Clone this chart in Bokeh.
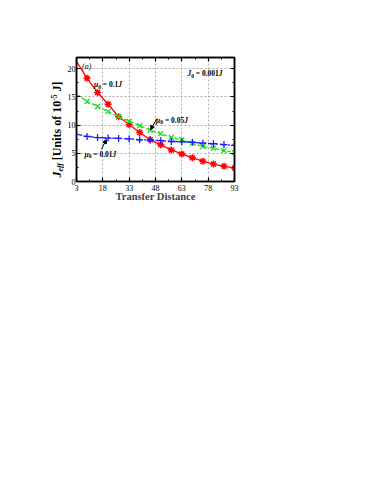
import math
from bokeh.plotting import figure
from bokeh.layouts import row
from bokeh.models import (Range1d, FixedTicker, LinearAxis, Label, Arrow, NormalHead,
                          CustomJSTickFormatter)
from bokeh.embed import file_html
from bokeh.resources import INLINE

# ---- data ----
distance = [3, 9, 15, 21, 27, 33, 39, 45, 51, 57, 63, 69, 75, 81, 87, 93]
jeff_mu_0_1 = [21.3, 18.3, 15.8, 13.7, 11.5, 10.1, 8.7, 7.4, 6.5, 5.6, 4.9, 4.2, 3.6, 3.1, 2.7, 2.4]
jeff_mu_0_05 = [15.5, 14.2, 13.3, 12.4, 11.5, 10.7, 9.9, 9.1, 8.5, 7.8, 7.4, 6.8, 6.2, 5.9, 5.5, 5.1]
jeff_mu_0_01 = [8.4, 8.0, 7.8, 7.7, 7.65, 7.55, 7.4, 7.35, 7.25, 7.1, 7.05, 6.95, 6.8, 6.7, 6.55, 6.4]
x_ticks = [3, 18, 33, 48, 63, 78, 93]
x_minor = [10.5, 25.5, 40.5, 55.5, 70.5, 85.5]
y_ticks = [0, 5, 10, 15, 20]
y_minor = [2.5, 7.5, 12.5, 17.5]

FONT = "Liberation Serif"
H = 222          # total height of both panels
LAB_W = 64       # width of the side panel holding the y title
FRAME_H = 124    # plot frame height in px
Y_MAX = 22

p = figure(width=11 + 159 + 12, height=H, output_backend="svg", toolbar_location=None,
           x_range=Range1d(3, 93), y_range=Range1d(0, Y_MAX),
           min_border_left=11, min_border_top=57, min_border_right=12, min_border_bottom=41,
           background_fill_color="white", border_fill_color="white")
p.outline_line_color = "black"
p.outline_line_width = 1.5

# narrow panel that carries the rotated y-axis title; it shares the y range
lab = figure(width=LAB_W, height=H, output_backend="svg", toolbar_location=None,
             x_range=Range1d(0, LAB_W), y_range=p.y_range,
             min_border_left=0, min_border_right=0, min_border_top=57, min_border_bottom=41,
             x_axis_location=None, y_axis_location=None)
lab.outline_line_color = None
lab.xgrid.visible = False
lab.ygrid.visible = False

blank = CustomJSTickFormatter(code="return ''")

def style_axis(ax, labels=True):
    ax.axis_line_width = 1.5
    ax.axis_line_color = "black"
    ax.major_tick_in = 4
    ax.major_tick_out = 0
    ax.minor_tick_in = 2
    ax.minor_tick_out = 0
    ax.major_tick_line_width = 1.2
    ax.minor_tick_line_width = 1
    ax.major_label_text_font = FONT
    ax.major_label_text_font_size = "8px"
    ax.major_label_text_color = "black"
    if not labels:
        ax.formatter = blank
        ax.major_label_standoff = 0

p.xaxis.ticker = FixedTicker(ticks=x_ticks, minor_ticks=x_minor)
p.yaxis.ticker = FixedTicker(ticks=y_ticks, minor_ticks=y_minor)
style_axis(p.xaxis[0])
style_axis(p.yaxis[0])
p.xaxis.major_label_standoff = 3
p.yaxis.major_label_standoff = 1
p.xaxis.axis_label = "Transfer Distance"
p.xaxis.axis_label_text_font = FONT
p.xaxis.axis_label_text_font_style = "bold"
p.xaxis.axis_label_text_font_size = "10.5px"
p.xaxis.axis_label_standoff = -3

top = LinearAxis(ticker=FixedTicker(ticks=x_ticks, minor_ticks=x_minor))
right = LinearAxis(ticker=FixedTicker(ticks=y_ticks, minor_ticks=y_minor))
style_axis(top, labels=False)
style_axis(right, labels=False)
p.add_layout(top, "above")
p.add_layout(right, "right")

p.xgrid.ticker = FixedTicker(ticks=x_ticks)
p.ygrid.ticker = FixedTicker(ticks=y_ticks)
for g in (p.xgrid[0], p.ygrid[0]):
    g.grid_line_color = "#9a9a9a"
    g.grid_line_dash = "2 2"
    g.grid_line_width = 0.8

RED, GREEN, BLUE = "#ff0000", "#22dd22", "#1a1aff"
p.line(distance, jeff_mu_0_1, color=RED, line_width=1.3)
p.scatter(distance[1:], jeff_mu_0_1[1:], marker="asterisk", size=7, line_color=RED, line_width=1.5)
p.line(distance, jeff_mu_0_05, color=GREEN, line_width=1.3, line_dash="4 2")
p.scatter(distance[1:], jeff_mu_0_05[1:], marker="x", size=7, line_color=GREEN, line_width=1.3)
p.line(distance, jeff_mu_0_01, color=BLUE, line_width=1.3, line_dash="6 2 2 2")
p.scatter(distance[1:], jeff_mu_0_01[1:], marker="cross", size=7, line_color=BLUE, line_width=1.3)

# ---- rich text helper (Times metrics) ----
W = {' ': .25, '(': .333, ')': .333, 'a': .5, '[': .333, ']': .333, 'U': .722, 'n': .556,
     'i': .278, 't': .333, 's': .389, 'o': .5, 'f': .333, '.': .25, '=': .57, 'J': .5,
     'e': .444, '-': .333, 'μ': .576}

def tw(s, size):
    return sum(W.get(c, .5) for c in s) * size

def rich(fig, x, y, pieces):
    adv = 0.0
    for text, size, style, shift in pieces:
        body = text.lstrip(" ")
        adv += tw(text[:len(text) - len(body)], size)
        fig.add_layout(Label(x=x, y=y, x_offset=adv, y_offset=shift, text=body,
                             text_font=FONT, text_font_size=f"{size}px", text_font_style=style,
                             text_align="left", text_baseline="alphabetic", text_color="black"))
        adv += tw(body, size)

PX = Y_MAX / FRAME_H   # data units per pixel on the shared y range

def rich_vertical(fig, xc, y, pieces):
    # each piece is anchored at its own centre, so rotation cannot move it
    adv = 0.0
    for text, size, style, shift in pieces:
        body = text.lstrip(" ")
        adv += tw(text[:len(text) - len(body)], size)
        w = tw(body, size)
        fig.add_layout(Label(x=xc - shift, y=y + (adv + w / 2) * PX, text=body, angle=math.pi / 2,
                             text_font=FONT, text_font_size=f"{size}px", text_font_style=style,
                             text_align="center", text_baseline="middle", text_color="black"))
        adv += w

S = 7.5
SS = 5.5
def mu_label(x, y, val):
    rich(p, x, y, [("μ", S, "bold italic", 0), ("0", SS, "bold", -2),
                   (" = " + val, S, "bold", 0), ("J", S, "bold italic", 0)])

rich(p, 6.2, 20.4, [("(a)", 8, "italic", 0)])
mu_label(12.9, 17.2, "0.1")
mu_label(48.3, 10.9, "0.05")
mu_label(7.5, 4.8, "0.01")
rich(p, 66.2, 19.1, [("J", S, "bold italic", 0), ("0", SS, "bold", -2),
                     (" = 0.001", S, "bold", 0), ("J", S, "bold italic", 0)])

# y axis title: column centred at x=56.5 px, starting 4 px above the frame bottom
rich_vertical(lab, 56.5, 4 * PX, [("J", 12, "bold italic", 0), ("eff", 7.5, "bold italic", -3),
                                  (" [Units of 10", 12, "bold", 0), ("-5", 7.5, "bold", 3.5),
                                  (" J]", 12, "bold", 0)])

p.add_layout(Arrow(x_start=48.9, y_start=11.2, x_end=45.2, y_end=9.2, line_width=1,
                   end=NormalHead(size=4, fill_color="black", line_color="black")))
p.add_layout(Arrow(x_start=17.2, y_start=5.7, x_end=20.0, y_end=7.45, line_width=1,
                   end=NormalHead(size=4, fill_color="black", line_color="black")))

layout = row(lab, p, spacing=0)
open("out.html", "w").write(file_html(layout, INLINE))
